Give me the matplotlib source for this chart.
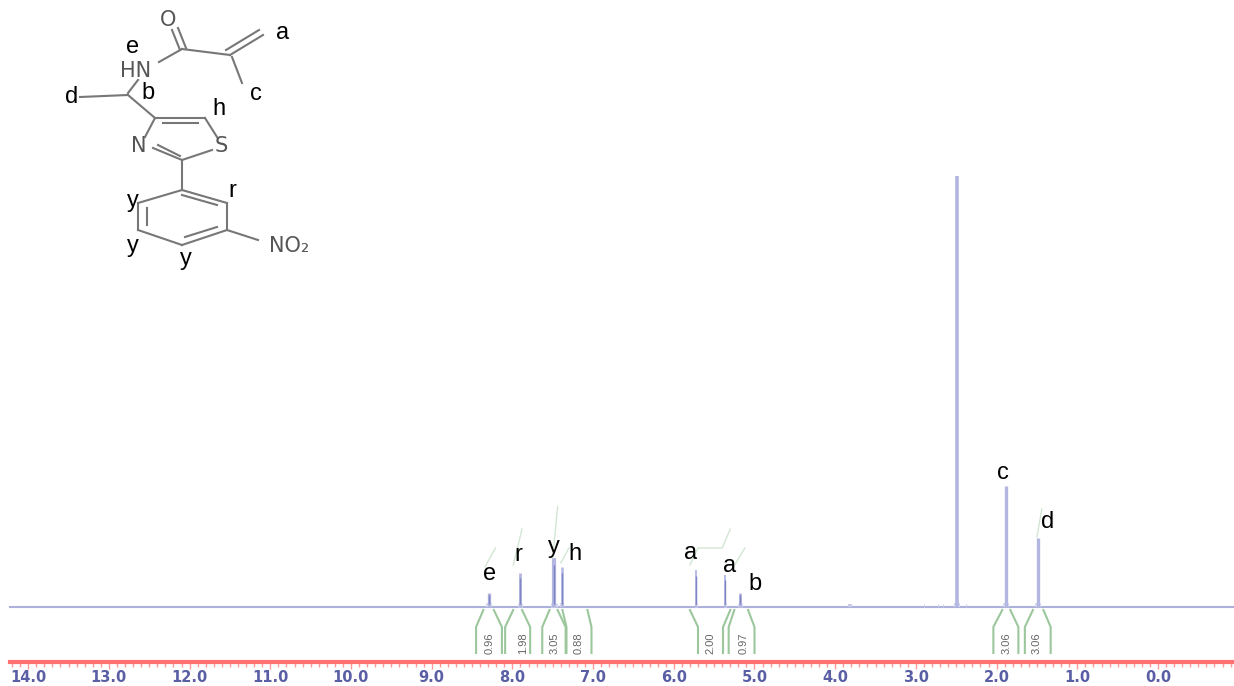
import matplotlib
matplotlib.use("Agg")
import matplotlib.pyplot as plt

# peaks, heights are pixels above the baseline
peak_ppm = [8.29, 7.90, 7.48, 7.38, 5.72, 5.36, 5.18, 2.49, 1.88, 1.49]
peak_height = [14, 34, 49, 40, 37, 32, 14, 431, 121, 69]
peak_width = [2.4, 2.0, 3.0, 1.8, 1.3, 1.3, 2.0, 2.6, 2.4, 2.4]

# small bumps on the baseline
bump_ppm = [3.82, 2.90, 2.73, 2.67, 2.38]
bump_height = [3, 3, 3, 3, 3]
bump_width = [3.0, 0.7, 0.7, 0.7, 0.7]

# integrals: left foot, left top, right top, right foot (ppm)
integral_labels = ["0.96", "1.98", "3.05", "0.88", "2.00", "0.97", "3.06", "3.06"]
integral_label_ppm = [8.28, 7.87, 7.48, 7.18, 5.54, 5.14, 1.88, 1.50]
left_foot = [8.45, 8.09, 7.63, 7.33, 5.70, 5.32, 2.04, 1.65]
left_top = [8.36, 7.99, 7.54, 7.38, 5.80, 5.25, 1.93, 1.55]
right_top = [8.23, 7.88, 7.44, 7.07, 5.30, 5.08, 1.83, 1.42]
right_foot = [8.13, 7.78, 7.34, 7.02, 5.39, 5.00, 1.73, 1.33]

# integral curves above the peaks, x in ppm, y in pixels above baseline
curve_x = [[8.34, 8.21], [7.99, 7.88], [7.50, 7.44], [7.40, 7.30], [5.80, 5.70, 5.40, 5.30], [5.26, 5.12], [1.50, 1.44]]
curve_y = [[40, 59], [42, 78], [49, 100], [44, 59], [42, 59, 59, 78], [40, 59], [70, 98]]

# assignments on the spectrum
peak_letters = ["e", "r", "y", "h", "a", "a", "b", "c", "d"]
letter_x = [490, 518, 554, 575, 691, 730, 755, 1003, 1048]
letter_y = [574, 555, 547, 554, 553, 566, 584, 473, 522]

# molecule drawn in picture pixels
bonds = [
    [(178, 28), (186, 48)], [(172, 30), (180, 50)], [(182, 49), (159, 62)], [(182, 49), (230, 55)],
    [(230, 55), (263, 35)], [(226, 50), (259, 30)], [(232, 57), (242, 83)],
    [(138, 80), (128, 93)], [(128, 95), (80, 97)], [(128, 95), (155, 118)],
    [(155, 118), (205, 118)], [(163, 123), (198, 123)], [(205, 118), (217, 137)],
    [(212, 150), (182, 160)], [(182, 160), (153, 148)], [(180, 156), (158, 145)],
    [(145, 137), (155, 118)], [(182, 160), (182, 190)],
    [(182, 190), (227, 203)], [(227, 203), (227, 230)], [(227, 230), (182, 245)],
    [(182, 245), (138, 230)], [(138, 230), (138, 203)], [(138, 203), (182, 190)],
    [(182, 195), (217, 205)], [(217, 227), (185, 237)], [(147, 208), (147, 225)],
    [(227, 230), (258, 240)],
]
atom_labels = ["O", "HN", "N", "S", "NO₂"]
atom_x = [168, 136, 139, 221, 289]
atom_y = [20, 71, 146, 146, 246]
mol_letters = ["a", "e", "d", "b", "c", "h", "r", "y", "y", "y"]
mol_letter_x = [283, 133, 72, 148, 256, 219, 232, 133, 133, 186]
mol_letter_y = [33, 47, 97, 93, 94, 109, 191, 201, 246, 259]

fig = plt.figure(figsize=(12.34, 6.86), dpi=100)
ax = fig.add_axes([0, 0, 1, 1])
ax.set_xlim(1158 / 80.7, (1158 - 1234) / 80.7)
ax.set_ylim(-79, 607)
ax.patch.set_visible(False)

# baseline and peaks, with a paler skirt at the foot of each peak
ax.plot([14.22, -0.94], [0, 0], color="#adb0da", lw=1.5)
ax.vlines(bump_ppm, 0, bump_height, colors="#c9cbe9", lw=bump_width)
ax.vlines(peak_ppm, 0, 4, colors="#d5d7ee", lw=[w * 1.7 for w in peak_width])
ax.vlines(peak_ppm, 0, peak_height, colors="#b3b6e0", lw=peak_width)
ax.vlines(peak_ppm[:7], 3, [h * 0.85 for h in peak_height[:7]], colors="#7f84c6", lw=1.0)

# integrals
for i in range(len(integral_labels)):
    ax.plot([left_foot[i], left_foot[i], left_top[i]], [-46, -20, -3], color="#9cc79c", lw=1.5)
    ax.plot([right_foot[i], right_foot[i], right_top[i]], [-46, -20, -3], color="#9cc79c", lw=1.5)
    ax.text(integral_label_ppm[i], -36, integral_labels[i], rotation=90, ha="center", va="center",
            fontsize=8, color="#666666", family="Liberation Sans")
for xs, ys in zip(curve_x, curve_y):
    ax.plot(xs, ys, color="#d3e6d3", lw=1.0)

# ruler along the bottom
ax.spines[["top", "left", "right"]].set_visible(False)
ax.spines["bottom"].set_position(("data", -55))
ax.spines["bottom"].set_color("#ff7070")
ax.spines["bottom"].set_linewidth(3)
ax.spines["bottom"].set_bounds(14.22, -0.94)
ax.set_yticks([])
major_ticks = [float(v) for v in range(14, -1, -1)]
ax.set_xticks(major_ticks)
ax.set_xticklabels([f"{v:.1f}" for v in major_ticks], fontweight="bold")
ax.set_xticks([v / 10 for v in range(-9, 143)], minor=True)
ax.tick_params(axis="x", which="major", length=5, width=1, color="#ff9999", pad=0.5,
               labelsize=10.5, labelcolor="#5a5ea5")
ax.tick_params(axis="x", which="minor", length=3.5, width=1, color="#ff9999")

# overlay in picture pixels for the letters and the molecule
over = fig.add_axes([0, 0, 1, 1])
over.set_xlim(0, 1234)
over.set_ylim(686, 0)
over.axis("off")

for bond in bonds:
    over.plot([bond[0][0], bond[1][0]], [bond[0][1], bond[1][1]], color="#777777", lw=1.5)
for s, x, y in zip(atom_labels, atom_x, atom_y):
    over.text(x, y, s, ha="center", va="center", fontsize=15, color="#555555")
for s, x, y in zip(mol_letters, mol_letter_x, mol_letter_y):
    over.text(x, y, s, ha="center", va="center", fontsize=17, color="black", family="Liberation Sans")
for s, x, y in zip(peak_letters, letter_x, letter_y):
    over.text(x, y, s, ha="center", va="center", fontsize=17, color="black", family="Liberation Sans")

fig.savefig("out.png", dpi=100)
